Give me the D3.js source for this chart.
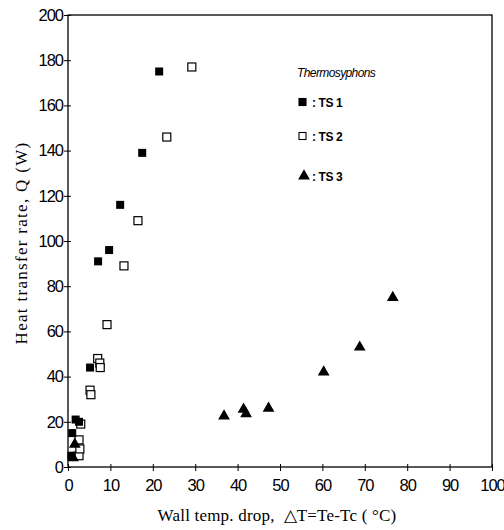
<!DOCTYPE html>
<html>
<head>
<meta charset="utf-8">
<script src="https://cdn.jsdelivr.net/npm/d3@7/dist/d3.min.js"></script>
<style>
  html, body { margin: 0; padding: 0; background: #fff; }
  svg { display: block; }
</style>
</head>
<body>
<svg id="chart" width="504" height="530"></svg>
<script>
// Wall temperature drop (°C) vs heat transfer rate (W) for three thermosyphons
const ts1X = [0.8, 1.0, 1.8, 2.6, 5.2, 7.1, 9.7, 12.3, 17.5, 21.5];
const ts1Q = [5, 15, 21, 20, 44, 91, 96, 116, 139, 175];

const ts2X = [2.6, 2.8, 2.6, 3.0, 5.2, 5.4, 7.0, 7.5, 7.6, 9.2, 13.2, 16.5, 23.3, 29.2];
const ts2Q = [5, 8, 12, 19, 34, 32, 48, 46, 44, 63, 89, 109, 146, 177];

const ts3X = [1.2, 1.6, 36.8, 41.4, 42.0, 47.3, 60.3, 68.8, 76.6];
const ts3Q = [4, 10, 22.5, 25.5, 23.5, 26, 42, 53, 75];

const xTicks = [0, 10, 20, 30, 40, 50, 60, 70, 80, 90, 100];
const yTicks = [0, 20, 40, 60, 80, 100, 120, 140, 160, 180, 200];

const svg = d3.select("#chart");
const plotL = 68, plotR = 492, plotT = 15, plotB = 467;

const x = d3.scaleLinear().domain([0, 100]).range([plotL, plotR]);
const y = d3.scaleLinear().domain([0, 200]).range([plotB, plotT]);

const tickFont = "'Liberation Sans', Arial, sans-serif";
const serif = "'Liberation Serif', 'Times New Roman', serif";

// frame
svg.append("rect")
  .attr("x", plotL).attr("y", plotT)
  .attr("width", plotR - plotL).attr("height", plotB - plotT)
  .attr("fill", "none").attr("stroke", "#000").attr("stroke-width", 1.3);

// axes
const xAxis = svg.append("g")
  .attr("transform", `translate(0,${plotB})`)
  .call(d3.axisBottom(x).tickValues(xTicks).tickSize(4).tickSizeOuter(0));
const yAxis = svg.append("g")
  .attr("transform", `translate(${plotL},0)`)
  .call(d3.axisLeft(y).tickValues(yTicks).tickSize(4).tickSizeOuter(0));

[xAxis, yAxis].forEach(g => {
  g.select(".domain").remove();
  g.selectAll(".tick line").attr("stroke", "#000").attr("stroke-width", 1);
  g.selectAll(".tick text")
    .attr("fill", "#000")
    .style("font-family", tickFont)
    .style("font-size", "16.5px")
    .attr("letter-spacing", "-1px");
});
xAxis.selectAll(".tick line").attr("y1", -3);
xAxis.selectAll(".tick text").attr("dy", "1.0em");
yAxis.selectAll(".tick line").attr("x1", 3);
yAxis.selectAll(".tick text").attr("x", -5);

// axis titles
svg.append("text")
  .attr("x", 277).attr("y", 521)
  .attr("text-anchor", "middle")
  .style("font-family", serif).style("font-size", "17px")
  .style("white-space", "pre")
  .attr("letter-spacing", "0.2px")
  .text("Wall temp. drop,  \u25B3T=Te-Tc ( \u00B0C)");

svg.append("text")
  .attr("transform", "translate(27,243) rotate(-90)")
  .attr("text-anchor", "middle")
  .style("font-family", serif).style("font-size", "17px")
  .attr("letter-spacing", "1.3px")
  .text("Heat transfer rate, Q (W)");

// markers
const plot = svg.append("g");
const sq = 8;

plot.selectAll(".ts2").data(d3.zip(ts2X, ts2Q)).join("rect")
  .attr("class", "ts2")
  .attr("x", d => x(d[0]) - sq / 2).attr("y", d => y(d[1]) - sq / 2)
  .attr("width", sq).attr("height", sq)
  .attr("fill", "#fff").attr("stroke", "#000").attr("stroke-width", 1.2);

plot.selectAll(".ts1").data(d3.zip(ts1X, ts1Q)).join("rect")
  .attr("class", "ts1")
  .attr("x", d => x(d[0]) - sq / 2).attr("y", d => y(d[1]) - sq / 2)
  .attr("width", sq).attr("height", sq)
  .attr("fill", "#000");

const tri = d3.symbol().type(d3.symbolTriangle).size(60);
plot.selectAll(".ts3").data(d3.zip(ts3X, ts3Q)).join("path")
  .attr("class", "ts3")
  .attr("transform", d => `translate(${x(d[0])},${y(d[1])})`)
  .attr("d", tri)
  .attr("fill", "#000");

// legend
const lg = svg.append("g").style("font-family", tickFont);
lg.append("text")
  .attr("x", 297).attr("y", 77)
  .style("font-size", "12px").style("font-style", "italic")
  .attr("letter-spacing", "-0.6px")
  .text("Thermosyphons");

const legendRows = [
  { label: ": TS 1", yPos: 103, kind: "filled" },
  { label: ": TS 2", yPos: 137, kind: "open" },
  { label: ": TS 3", yPos: 177, kind: "tri" }
];
legendRows.forEach(r => {
  if (r.kind === "tri") {
    lg.append("path")
      .attr("transform", `translate(304,${r.yPos - 1})`)
      .attr("d", tri).attr("fill", "#000");
  } else {
    lg.append("rect")
      .attr("x", 299).attr("y", r.yPos - 4.5)
      .attr("width", 7).attr("height", 7)
      .attr("fill", r.kind === "filled" ? "#000" : "#fff")
      .attr("stroke", "#000").attr("stroke-width", 1.1);
  }
  lg.append("text")
    .attr("x", 312).attr("y", r.yPos + 4)
    .style("font-size", "12px").style("font-weight", "bold")
    .attr("letter-spacing", "-0.4px")
    .text(r.label);
});
</script>
</body>
</html>
